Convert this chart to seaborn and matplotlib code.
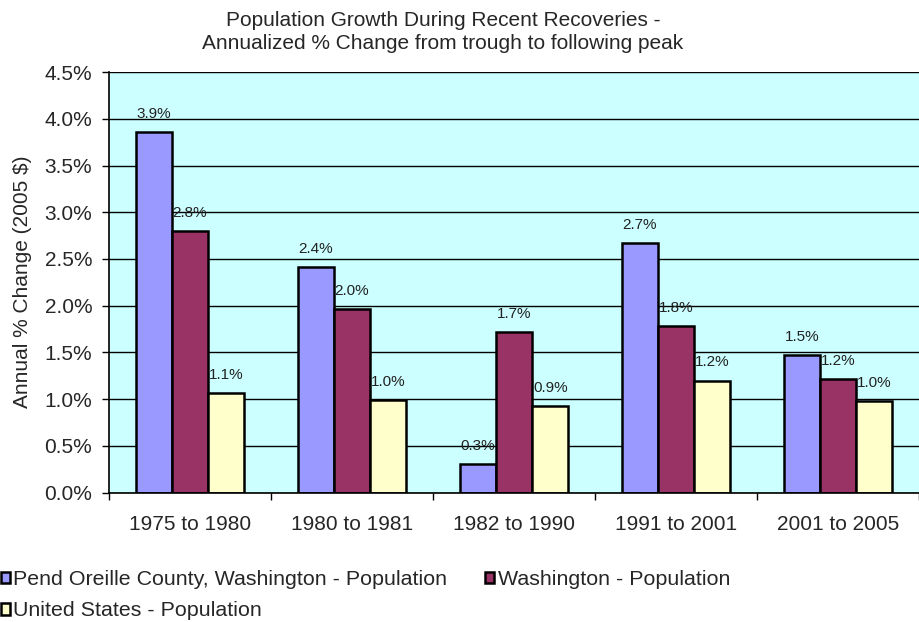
import matplotlib
matplotlib.use("Agg")
import matplotlib.pyplot as plt
import matplotlib.ticker as mticker
import numpy as np
import pandas as pd
import seaborn as sns

#%% data (annual % change)
periods = ['1975 to 1980', '1980 to 1981', '1982 to 1990', '1991 to 2001', '2001 to 2005']
series_names = ['Pend Oreille County, Washington - Population',
                'Washington - Population',
                'United States - Population']
pend_oreille = [3.86, 2.41, 0.31, 2.67, 1.47]
washington = [2.80, 1.96, 1.72, 1.78, 1.22]
united_states = [1.07, 0.99, 0.93, 1.20, 0.98]
y_ticks = [0.0, 0.5, 1.0, 1.5, 2.0, 2.5, 3.0, 3.5, 4.0, 4.5]

colors = ['#9999FF', '#993366', '#FFFFCC']

#%%
if __name__ == '__main__':
    df = pd.DataFrame({
        'period': periods * 3,
        'series': [series_names[0]] * 5 + [series_names[1]] * 5 + [series_names[2]] * 5,
        'value': pend_oreille + washington + united_states,
    })

    sns.set_style('white')
    plt.rcParams['font.family'] = ['Liberation Sans', 'DejaVu Sans']

    fig = plt.figure(figsize=(9.19, 6.22), dpi=100)
    ax = fig.add_axes([0.1186, 0.2079, 0.8814, 0.6763])
    ax.set_facecolor('#CCFFFF')

    sns.barplot(data=df, x='period', y='value', hue='series', order=periods,
                hue_order=series_names, palette=colors, width=0.672,
                edgecolor='black', linewidth=1.8, saturation=1, ax=ax)

    for c in ax.containers:
        ax.bar_label(c, fmt='%.1f%%', padding=8, fontsize=11, color='#222222')

    ax.set_ylim(0, 4.5)
    ax.set_xlim(-0.5, len(periods) - 0.5)
    ax.set_yticks(y_ticks)
    ax.yaxis.set_major_formatter(mticker.FormatStrFormatter('%.1f%%'))
    ax.yaxis.grid(True, color='black', linewidth=1.0)
    ax.set_axisbelow(True)
    ax.set_xlabel('')
    ax.set_ylabel('')

    # category boundary ticks below the axis
    ax.set_xticks(np.arange(-0.5, len(periods), 1.0), minor=True)
    ax.tick_params(axis='x', which='minor', length=5, width=1, color='black', direction='out', bottom=True)
    ax.tick_params(axis='x', which='major', length=0, pad=16, labelsize=15)
    ax.tick_params(axis='y', which='major', length=5, width=1, color='black', direction='out',
                   left=True, pad=7, labelsize=15)

    for s in ['top', 'right']:
        ax.spines[s].set_visible(False)
    for s in ['left', 'bottom']:
        ax.spines[s].set_color('black')
        ax.spines[s].set_linewidth(1.2)

    fig.text(0.025, 0.5466, 'Annual % Change (2005 $)', rotation=90, ha='center', va='center', fontsize=15)
    fig.text(0.482, 0.9486, 'Population Growth During Recent Recoveries -\nAnnualized % Change from trough to following peak',
             ha='center', va='center', fontsize=15, linespacing=1.3)

    h, l = ax.get_legend_handles_labels()
    ax.legend_.remove()
    fig.legend([h[0], h[2], h[1]], [l[0], l[2], l[1]], ncol=2, loc='lower left',
               bbox_to_anchor=(-0.018, -0.025), frameon=False, fontsize=15.4,
               handlelength=0.45, handleheight=0.45, handletextpad=0.15,
               labelspacing=0.58, columnspacing=1.75, borderpad=0.3)

    plt.savefig('out.png', dpi=100)
